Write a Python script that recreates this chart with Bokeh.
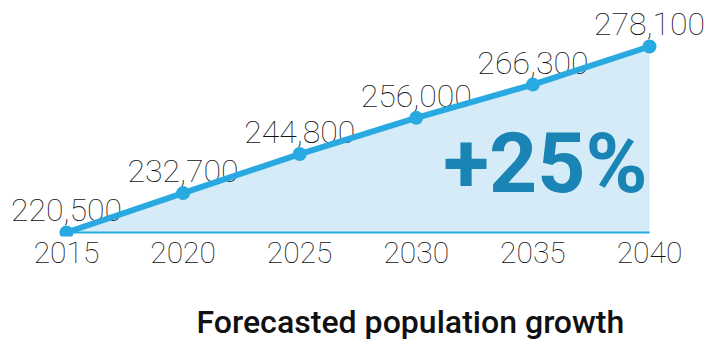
from bokeh.plotting import figure
from bokeh.models import Range1d, ColumnDataSource, Label, FixedTicker
from bokeh.core.properties import value
from bokeh.embed import file_html
from bokeh.resources import INLINE

years = [2015, 2020, 2025, 2030, 2035, 2040]
population = [220500, 232700, 244800, 256000, 266300, 278100]
labels = ["220,500", "232,700", "244,800", "256,000", "266,300", "278,100"]
growth_text = "+25%"
title_text = "Forecasted population growth"

LINE = "#29a9e1"
FILL = "#d5ecf8"
DARK = "#1a84b4"

base = population[0]
src = ColumnDataSource(dict(x=years, y=population, lab=labels, base=[base] * len(years)))

p = figure(width=713, height=347, output_backend="svg", toolbar_location=None,
           x_range=Range1d(2012.170, 2042.744), y_range=Range1d(219261, 292345),
           y_axis_type=None, title=title_text, title_location="below",
           min_border_left=0, min_border_right=0, min_border_top=0, min_border_bottom=0)
p.outline_line_color = None
p.grid.visible = False
p.background_fill_color = None
p.border_fill_color = None

p.varea(x="x", y1="base", y2="y", source=src, fill_color=FILL)
p.line(x=[years[0], years[-1]], y=[base, base], line_color=LINE, line_width=2)
p.text(x="x", y="y", text="lab", source=src, text_align="center", text_baseline="alphabetic",
       y_offset=-22, text_font_size="32px", text_font=value("Roboto Thin"), text_color="#111111")
p.line(x="x", y="y", source=src, line_color=LINE, line_width=6)
p.scatter(x="x", y="y", source=src, size=14, fill_color=LINE, line_color=None)

p.add_layout(Label(x=years[-1], y=base, x_offset=-2, y_offset=69, text=growth_text,
                   text_align="right", text_baseline="alphabetic", text_font="Roboto",
                   text_font_style="bold", text_font_size="84px", text_color=DARK))

ax = p.xaxis[0]
ax.ticker = FixedTicker(ticks=years)
ax.axis_line_color = None
ax.major_tick_line_color = None
ax.minor_tick_line_color = None
ax.major_tick_out = 0
ax.major_tick_in = 0
ax.major_label_standoff = 5
ax.major_label_text_font = "Roboto Thin"
ax.major_label_text_font_size = "30px"
ax.major_label_text_color = "#111111"
ax.axis_label = " "
ax.axis_label_text_font_size = "10px"
ax.axis_label_standoff = 14

p.title.text_font = "Roboto Medium"
p.title.text_font_style = "normal"
p.title.text_font_size = "32px"
p.title.text_color = "#111111"
p.title.align = "left"
p.title.offset = 196
p.title.standoff = 14
p.title.vertical_align = "bottom"

open("out.html", "w").write(file_html(p, INLINE))
